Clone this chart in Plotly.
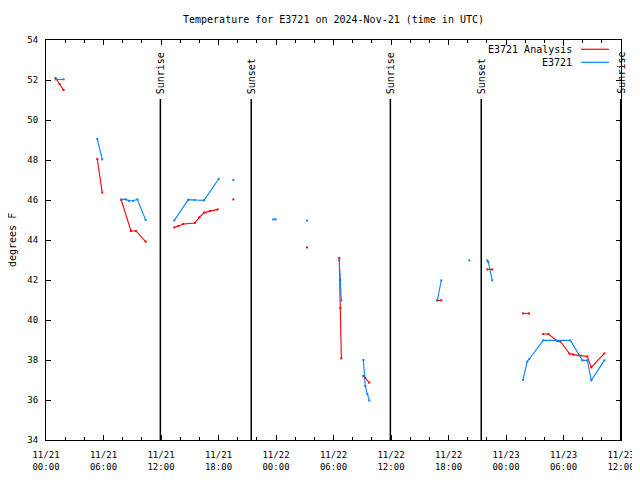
import plotly.graph_objects as go

# ---- data (None = gap between reporting periods) ----
analysis_time = [
    "2024-11-21 01:00", "2024-11-21 01:25", "2024-11-21 01:50", None,
    "2024-11-21 05:21", "2024-11-21 05:52", None,
    "2024-11-21 07:51", "2024-11-21 08:52", "2024-11-21 09:23", "2024-11-21 10:24", None,
    "2024-11-21 13:23", "2024-11-21 13:48", "2024-11-21 14:20", "2024-11-21 15:31",
    "2024-11-21 16:00", "2024-11-21 16:31", "2024-11-21 17:07", "2024-11-21 17:55", None,
    "2024-11-21 19:33", None,
    "2024-11-22 03:14", None,
    "2024-11-22 06:36", "2024-11-22 06:43", "2024-11-22 06:49", None,
    "2024-11-22 09:07", "2024-11-22 09:19", "2024-11-22 09:44", None,
    "2024-11-22 16:50", "2024-11-22 17:15", None,
    "2024-11-22 22:03", "2024-11-22 22:34", None,
    "2024-11-23 01:46", "2024-11-23 02:24", None,
    "2024-11-23 03:53", "2024-11-23 04:25", "2024-11-23 05:21", "2024-11-23 05:40",
    "2024-11-23 06:37", "2024-11-23 07:01", "2024-11-23 07:39", "2024-11-23 08:29",
    "2024-11-23 08:54", "2024-11-23 10:16",
]
analysis_temp = [
    52.1, 51.8, 51.5, None,
    48.05, 46.37, None,
    46.0, 44.45, 44.45, 43.92, None,
    44.63, 44.7, 44.8, 44.85, 45.13, 45.37, 45.45, 45.53, None,
    46.03, None,
    43.63, None,
    43.1, 40.6, 38.08, None,
    37.2, 37.1, 36.87, None,
    40.98, 40.98, None,
    42.53, 42.53, None,
    40.33, 40.33, None,
    39.3, 39.3, 38.95, 38.93, 38.32, 38.27, 38.23, 38.18, 37.63, 38.33,
]

obs_time = [
    "2024-11-21 01:00", "2024-11-21 01:50", None,
    "2024-11-21 05:21", "2024-11-21 05:52", None,
    "2024-11-21 07:51", "2024-11-21 08:20", "2024-11-21 08:40", "2024-11-21 09:05",
    "2024-11-21 09:32", "2024-11-21 10:24", None,
    "2024-11-21 13:23", "2024-11-21 14:51", "2024-11-21 15:30", "2024-11-21 16:29",
    "2024-11-21 18:01", None,
    "2024-11-21 19:33", None,
    "2024-11-21 23:43", "2024-11-21 23:58", None,
    "2024-11-22 03:14", None,
    "2024-11-22 06:36", "2024-11-22 06:43", "2024-11-22 06:49", None,
    "2024-11-22 09:07", "2024-11-22 09:13", "2024-11-22 09:19", "2024-11-22 09:32",
    "2024-11-22 09:44", None,
    "2024-11-22 16:50", "2024-11-22 17:15", None,
    "2024-11-22 20:10", None,
    "2024-11-22 22:03", "2024-11-22 22:09", "2024-11-22 22:34", None,
    "2024-11-23 01:46", "2024-11-23 02:13", "2024-11-23 02:26", "2024-11-23 03:53",
    "2024-11-23 06:43", "2024-11-23 07:58", "2024-11-23 08:29", "2024-11-23 08:54",
    "2024-11-23 10:16",
]
obs_temp = [
    52.03, 52.03, None,
    49.05, 48.03, None,
    46.03, 46.03, 45.96, 45.96, 46.03, 45.0, None,
    44.98, 46.02, 46.0, 45.98, 47.05, None,
    47.0, None,
    45.03, 45.03, None,
    44.97, None,
    43.0, 42.0, 40.97, None,
    38.0, 37.2, 36.7, 36.3, 35.97, None,
    40.98, 41.98, None,
    42.98, None,
    42.98, 42.9, 41.98, None,
    37.0, 37.92, 38.05, 38.98, 38.98, 37.98, 37.98, 36.98, 37.98,
]

event_time = ["2024-11-21 11:56", "2024-11-21 21:25", "2024-11-22 11:56",
              "2024-11-22 21:25", "2024-11-23 11:58"]
event_label = ["Sunrise", "Sunset", "Sunrise", "Sunset", "Sunrise"]

series_names = ["E3721 Analysis", "E3721"]
series_colors = ["#ff0000", "#0a84ff"]

title_text = "Temperature for E3721 on 2024-Nov-21 (time in UTC)"
y_title = "degrees F"

FONT = "DejaVu Sans Mono"

# the page body adds an 8px offset; size the figure so the plot area lands
# at x 46..621, y 40..440 of the 640x480 window
FIG_W, FIG_H = 632, 472

fig = go.Figure()
for t, v, name, col in [(analysis_time, analysis_temp, series_names[0], series_colors[0]),
                        (obs_time, obs_temp, series_names[1], series_colors[1])]:
    fig.add_trace(go.Scatter(
        x=t, y=v, name=name, mode="lines+markers", connectgaps=False,
        line=dict(color=col, width=1.1),
        marker=dict(symbol="square", size=2, color=col, line=dict(width=0)),
    ))

# sunrise / sunset markers
LABEL_LEVEL = 51.05
for t, lab in zip(event_time, event_label):
    fig.add_shape(type="line", xref="x", yref="y", x0=t, x1=t, y0=34, y1=LABEL_LEVEL,
                  line=dict(color="black", width=1.5))
    fig.add_annotation(x=t, y=LABEL_LEVEL, xref="x", yref="y", text=lab,
                       textangle=-90, showarrow=False, xanchor="center",
                       yanchor="bottom", yshift=3,
                       font=dict(family=FONT, size=10, color="black"))

# gnuplot-style legend (text left of sample line)
leg_rows = [0.9768, 0.9443]
for name, col, yy in zip(series_names, series_colors, leg_rows):
    fig.add_annotation(x=0.9183, y=yy, xref="paper", yref="paper", text=name,
                       showarrow=False, xanchor="right", yanchor="middle",
                       font=dict(family=FONT, size=10, color="black"))
    fig.add_shape(type="line", xref="paper", yref="paper", x0=0.9304, x1=0.9791,
                  y0=yy, y1=yy, line=dict(color=col, width=1.2))

# y axis title
fig.add_annotation(x=(12 - 46) / 575, y=0.5, xref="paper", yref="paper", text=y_title,
                   textangle=-90, showarrow=False, xanchor="center", yanchor="middle",
                   font=dict(family=FONT, size=10, color="black"))

axis_common = dict(
    showline=True, linecolor="black", linewidth=1, mirror="ticks",
    ticks="inside", ticklen=5, tickcolor="black", tickwidth=1,
    showgrid=False, zeroline=False, automargin=False,
    tickfont=dict(family=FONT, size=9, color="black"),
)

fig.update_layout(
    width=FIG_W, height=FIG_H,
    margin=dict(l=38, r=19, t=32, b=40, autoexpand=False),
    plot_bgcolor="white", paper_bgcolor="white",
    showlegend=False,
    font=dict(family=FONT, size=10, color="black"),
    title=dict(text=title_text, x=0.5, xref="paper", xanchor="center",
               y=1 - 11 / FIG_H, yref="container", yanchor="middle",
               font=dict(family=FONT, size=10, color="black")),
    xaxis=dict(type="date", range=["2024-11-21 00:00", "2024-11-23 12:00"],
               tick0="2024-11-21 00:00", dtick=6 * 3600 * 1000,
               tickformat="%m/%d<br>%H:%M", ticklabelstandoff=6,
               minor=dict(dtick=2 * 3600 * 1000, ticks="inside", ticklen=3,
                          tickcolor="black", showgrid=False),
               **axis_common),
    yaxis=dict(range=[34, 54], dtick=2, tick0=34, ticklabelstandoff=5,
               minor=dict(dtick=1, ticks="", showgrid=False),
               **axis_common),
)

fig.write_html("out.html")
